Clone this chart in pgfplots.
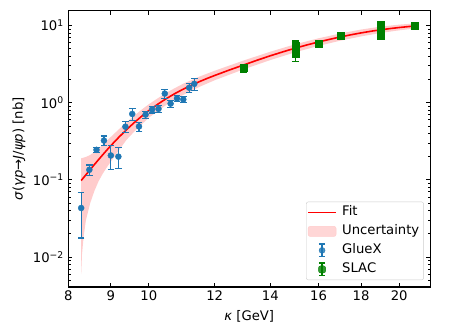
\documentclass[border=0pt]{standalone}
\usepackage{fontspec}
\setmainfont{DejaVu Sans}
\usepackage{pgfplots}
\pgfplotsset{compat=1.18}

\definecolor{c0}{RGB}{31,119,180}
\definecolor{slacg}{RGB}{0,128,0}
\definecolor{bandc}{RGB}{255,204,204}
\newcommand\fs{\fontsize{13.2pt}{15pt}\selectfont}

\begin{document}
\begin{tikzpicture}
\begin{axis}[
  scale only axis, width=362pt, height=276.3pt,
  xmode=log, ymode=log,
  xmin=8, xmax=21.8, ymin=0.0041, ymax=15.5,
  xtick={8,9,10,12,14,16,18,20},
  xticklabels={8,9,10,12,14,16,18,20},
  xminorticks=false,
  ytick={0.01,0.1,1,10},
  yticklabels={10\textsuperscript{−2},10\textsuperscript{−1},10\textsuperscript{0},10\textsuperscript{1}},
  minor ytick={0.005,0.006,0.007,0.008,0.009,0.02,0.03,0.04,0.05,0.06,0.07,0.08,0.09,
               0.2,0.3,0.4,0.5,0.6,0.7,0.8,0.9,2,3,4,5,6,7,8,9},
  tick align=inside, major tick length=4pt, minor tick length=2.3pt,
  every tick/.append style={black, line width=0.9pt},
  every minor tick/.append style={line width=0.7pt},
  axis line style={line width=1.2pt},
  tick label style={font=\fs},
  yticklabel style={xshift=-1pt},
  label style={font=\fs},
  xlabel={\textit{κ} [GeV]},
  xlabel style={at={(axis description cs:0.5,-0.108)}, anchor=center},
  ylabel={\textit{σ}(\textit{γp}→\textit{J}/\textit{ψp}) [nb]},
  ylabel style={at={(axis description cs:-0.136,0.5)}, anchor=center},
  legend cell align=left,
  legend style={at={(0.982,0.025)}, anchor=south east, draw=black!20,
    rounded corners=2pt, fill=white, fill opacity=0.8, text opacity=1,
    font=\fs, inner sep=1pt, row sep=0pt,
    nodes={inner sep=3.3pt, text height=9.7pt, text depth=2.7pt},
    /tikz/every odd column/.append style={column sep=2pt}},
]
% uncertainty band (upper edge, then lower edge back)
\addplot[fill=bandc, draw=none, forget plot] coordinates {
(8.29,0.19)(8.4,0.198)(8.5,0.21)(8.6,0.229)(8.7,0.254)(8.8,0.285)(8.9,0.32)
(9.0,0.36)(9.2,0.45)(9.4,0.556)(9.6,0.676)(9.8,0.81)(10.0,0.955)(10.5,1.35)
(11.0,1.76)(11.5,2.17)(12.0,2.59)(13.0,3.51)(14.0,4.57)(15.0,5.7)(16.0,6.81)
(17.0,7.87)(18.0,8.84)(19.0,9.64)(20.0,10.23)(20.9,10.6)
(20.9,9.1)(20.0,8.63)(19.0,7.98)(18.0,7.2)(17.0,6.35)(16.0,5.43)(15.0,4.49)
(14.0,3.56)(13.0,2.70)(12.0,1.95)(11.5,1.60)(11.0,1.26)(10.5,0.94)(10.0,0.64)
(9.8,0.52)(9.6,0.42)(9.4,0.33)(9.2,0.24)(9.0,0.172)(8.9,0.145)(8.8,0.12)
(8.7,0.096)(8.6,0.072)(8.5,0.05)(8.4,0.03)(8.35,0.019)(8.31,0.011)(8.29,0.006)
};
% fit
\addplot[red, line width=1.6pt, forget plot] coordinates {
(8.29,0.098)(8.4,0.1163)(8.5,0.1356)(8.6,0.1579)(8.7,0.1829)(8.8,0.211)
(8.9,0.2425)(9.0,0.2773)(9.2,0.3555)(9.4,0.4465)(9.6,0.550)(9.8,0.665)
(10.0,0.790)(10.25,0.955)(10.5,1.131)(10.75,1.312)(11.0,1.496)(11.25,1.681)
(11.5,1.868)(11.75,2.058)(12.0,2.248)(12.5,2.647)(13.0,3.073)(13.5,3.546)
(14.0,4.043)(14.5,4.555)(15.0,5.077)(15.5,5.593)(16.0,6.103)(16.5,6.601)
(17.0,7.092)(17.5,7.559)(18.0,7.998)(18.5,8.402)(19.0,8.768)(19.5,9.093)
(20.0,9.385)(20.5,9.643)(20.9,9.831)
};
% GlueX
\addplot[only marks, mark=*, mark size=3pt, color=c0, forget plot,
  error bars/.cd, y dir=both, y explicit,
  error bar style={line width=1.2pt, color=c0},
  error mark options={rotate=90, mark size=3.3pt, line width=1.2pt, color=c0}]
coordinates {
(8.29,0.0432) +- (0,0.0255)
(8.48,0.135) +- (0,0.021)
(8.65,0.245) +- (0,0.02)
(8.83,0.323) +- (0,0.047)
(9.00,0.207) +- (0,0.07)
(9.19,0.200) +- (0,0.06)
(9.37,0.488) +- (0,0.08)
(9.55,0.713) +- (0,0.12)
(9.73,0.491) +- (0,0.065)
(9.91,0.70) +- (0,0.07)
(10.09,0.815) +- (0,0.08)
(10.27,0.83) +- (0,0.08)
(10.45,1.31) +- (0,0.17)
(10.62,0.97) +- (0,0.1)
(10.81,1.13) +- (0,0.1)
(11.00,1.10) +- (0,0.1)
(11.18,1.56) +- (0,0.2)
(11.34,1.75) +- (0,0.3)
};
% SLAC
\addplot[only marks, mark=square*, mark size=3.5pt, color=slacg, forget plot,
  error bars/.cd, y dir=both, y explicit,
  error bar style={line width=1.2pt, color=slacg},
  error mark options={rotate=90, mark size=3.3pt, line width=1.2pt, color=slacg}]
coordinates {
(13.0,2.80) +- (0,0.35)
(15.0,5.54) +- (0,0.75)
(15.0,4.24) +- (0,0.8)
(16.0,5.85) +- (0,0.6)
(17.0,7.38) +- (0,0.3)
(19.0,10.1) +- (0,0.8)
(19.0,8.9) +- (0,0.7)
(19.0,7.4) +- (0,0.6)
(20.9,9.85) +- (0,0.3)
};
% legend
\addlegendimage{legend image code/.code={\draw[red, line width=1.6pt] (0pt,0pt) -- (28pt,0pt);}}
\addlegendentry{Fit}
\addlegendimage{legend image code/.code={\fill[bandc] (0pt,-5pt) rectangle (28pt,5pt);}}
\addlegendentry{Uncertainty}
\addlegendimage{legend image code/.code={
  \draw[c0, line width=1.2pt] (14pt,-6.3pt) -- (14pt,6.3pt);
  \draw[c0, line width=1.2pt] (10.7pt,-6.3pt) -- (17.3pt,-6.3pt);
  \draw[c0, line width=1.2pt] (10.7pt,6.3pt) -- (17.3pt,6.3pt);
  \fill[c0] (14pt,0pt) circle (3pt);}}
\addlegendentry{GlueX}
\addlegendimage{legend image code/.code={
  \draw[slacg, line width=1.2pt] (14pt,-6.3pt) -- (14pt,6.3pt);
  \draw[slacg, line width=1.2pt] (10.7pt,-6.3pt) -- (17.3pt,-6.3pt);
  \draw[slacg, line width=1.2pt] (10.7pt,6.3pt) -- (17.3pt,6.3pt);
  \fill[slacg] (10.5pt,-3.5pt) rectangle (17.5pt,3.5pt);}}
\addlegendentry{SLAC}
\end{axis}
\path (-68.3pt,-36pt) rectangle (382.7pt,287pt);
\end{tikzpicture}
\end{document}
